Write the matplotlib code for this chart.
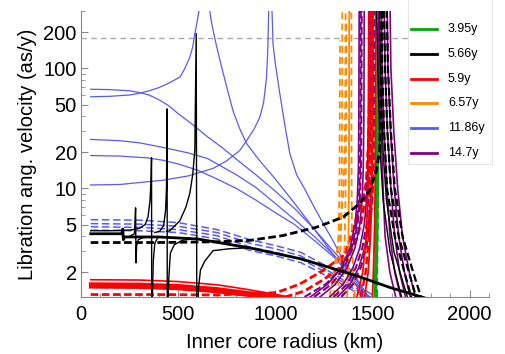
import numpy as np
import matplotlib
matplotlib.use("Agg")
import matplotlib.pyplot as plt
from matplotlib.lines import Line2D
from matplotlib.patches import Rectangle
from matplotlib.ticker import FixedLocator, FixedFormatter, NullFormatter, LogLocator

plt.rcParams['font.family'] = ['Liberation Sans', 'DejaVu Sans']
plt.rcParams['lines.scale_dashes'] = False

# colours / periods
periods = ['3.95y', '5.66y', '5.9y', '6.57y', '11.86y', '14.7y']
colors = ['#00aa00', '#000000', '#ff0000', '#ff8800', '#5a5af2', '#800080']
GREEN, BLACK, RED, ORANGE, BLUE, PURPLE = colors

ref_level = 180  # grey dashed line

# ---- 11.86y (blue) solid branches: (x km, y as/y)
blue_solid = [
    ([50, 150, 250, 300, 350, 400, 450, 500, 575, 650, 725, 800, 900, 1000, 1100, 1200, 1300, 1400, 1480],
     [67, 66.5, 65, 63, 60, 55, 49, 42, 34, 27, 22, 17.5, 13, 9.5, 6.8, 4.6, 3.0, 2.0, 1.25]),
    ([50, 150, 250, 300, 350, 400, 450, 509, 535, 560, 575, 586, 597, 607, 612],
     [58, 58.5, 60, 62, 65, 69, 75, 84.5, 100, 124, 150, 195, 240, 300, 400]),
    ([655, 663, 670, 680, 695, 715, 750, 783, 815, 852, 920, 1000, 1100, 1200, 1300, 1400, 1460],
     [400, 300, 250, 207, 160, 117, 70, 44, 32, 23.7, 17, 12, 7.5, 4.6, 2.8, 1.7, 1.25]),
    ([50, 200, 420, 550, 680, 750, 817, 852, 890, 920, 940, 955, 962, 966, 968],
     [10.7, 10.8, 11.7, 12.7, 14.7, 17, 20.7, 25, 31, 39, 52, 84, 150, 300, 400]),
    ([980, 983, 986, 988, 1000, 1023, 1050, 1075, 1110, 1150, 1200, 1250, 1300, 1350, 1400, 1450],
     [400, 300, 220, 161, 110, 62, 33, 19.5, 13, 10, 7, 5, 3.6, 2.5, 1.75, 1.25]),
    ([50, 200, 300, 420, 550, 650, 800, 900, 1000, 1100, 1200, 1300, 1400, 1480],
     [25.6, 25, 24, 22, 19.8, 17.8, 13, 10.2, 7.5, 5.5, 4, 2.8, 1.9, 1.25]),
    ([50, 200, 340, 420, 500, 600, 700, 800, 900, 1000, 1100, 1200, 1300, 1400, 1470],
     [18.8, 18.6, 18, 17.2, 16, 14.2, 12, 10, 8, 6.3, 5, 3.7, 2.7, 1.8, 1.25]),
]

# ---- blue dashed branches
blue_dash_x = [50, 300, 500, 700, 870, 1000, 1130, 1300, 1440, 1500]
blue_dash = [
    [5.5, 5.45, 5.2, 4.55, 3.75, 3.35, 2.95, 2.1, 1.5, 1.3],
    [5.1, 5.05, 4.85, 4.3, 3.5, 3.15, 2.75, 1.95, 1.4, 1.22],
    [4.8, 4.75, 4.55, 4.05, 3.25, 2.95, 2.6, 1.85, 1.35, 1.2],
    [4.5, 4.45, 4.3, 3.8, 3.05, 2.75, 2.42, 1.75, 1.3, 1.15],
]

# ---- 5.66y (black)
black_thick_x = [50, 210, 215, 218, 225, 400, 600, 870, 1130, 1280, 1430, 1590, 1790]
black_thick_y = [4.2, 4.2, 4.6, 3.75, 3.95, 3.95, 3.8, 3.2, 2.6, 2.2, 1.85, 1.5, 1.2]

black_thin = [
    ([50, 150, 250, 300, 330, 345, 355, 360, 363, 364],
     [4.45, 4.45, 4.5, 4.65, 5.0, 5.8, 7.9, 11, 18, 1.0]),
    ([250, 275, 281, 283, 286, 295, 320, 360],
     [4.0, 4.2, 6.9, 2.4, 3.3, 3.75, 3.9, 3.95]),
    ([366, 372, 380, 395, 410],
     [1.0, 2.5, 3.5, 3.9, 3.95]),
    ([380, 405, 425, 435, 440, 443, 444],
     [4.3, 4.4, 4.9, 6.5, 10, 46, 1.0]),
    ([447, 452, 460, 480, 520, 600],
     [1.0, 1.8, 2.9, 3.4, 3.7, 3.85]),
    ([440, 458, 509, 540, 560, 575, 586, 593, 596],
     [4.4, 4.45, 5.4, 7.0, 9.1, 13, 21, 195, 1.0]),
    ([600, 605, 615, 638, 680, 764, 850],
     [1.0, 1.5, 2.1, 2.5, 3.04, 3.15, 3.2]),
    ([1520, 1528, 1540, 1555, 1590, 1650],
     [400, 100, 20, 8, 3, 1.25]),
    ([1535, 1542, 1555, 1572, 1610, 1680],
     [400, 100, 20, 8, 3, 1.25]),
]

black_dash_x = [50, 400, 700, 869, 1040, 1212, 1349, 1434, 1486, 1520, 1537, 1545, 1550]
black_dash_y = [3.55, 3.55, 3.6, 3.7, 4.06, 4.76, 5.77, 7.5, 9.6, 14.1, 20.7, 60, 400]

right_y = [400, 100, 30, 10, 4, 2, 1.25]
black_dash_right = [
    [1545, 1550, 1560, 1575, 1615, 1665, 1700],
    [1558, 1565, 1577, 1595, 1635, 1688, 1725],
    [1572, 1580, 1595, 1615, 1655, 1710, 1750],
]

# ---- 14.7y (purple)
purple_right = [
    [1530, 1535, 1545, 1555, 1565, 1590, 1620],
    [1545, 1550, 1560, 1575, 1590, 1615, 1645],
    [1560, 1565, 1577, 1595, 1615, 1640, 1670],
    [1575, 1580, 1593, 1612, 1635, 1665, 1695],
    [1590, 1595, 1610, 1630, 1655, 1690, 1720],
]
left_y = [1.25, 1.6, 2.2, 3.2, 5, 8, 15, 40, 400]
purple_left = [
    [1180, 1270, 1340, 1385, 1410, 1422, 1428, 1430, 1432],
    [1230, 1310, 1370, 1410, 1435, 1447, 1453, 1456, 1458],
    [1280, 1350, 1400, 1435, 1458, 1470, 1476, 1479, 1481],
    [1320, 1385, 1430, 1460, 1480, 1492, 1498, 1500, 1502],
]
purple_left_dash = [
    [1150, 1260, 1345, 1392, 1418, 1430, 1436, 1438, 1440],
    [1200, 1290, 1355, 1398, 1423, 1435, 1441, 1443, 1445],
    [1300, 1370, 1415, 1448, 1470, 1481, 1487, 1490, 1492],
    [1340, 1400, 1440, 1468, 1488, 1500, 1506, 1508, 1510],
]

# ---- 5.9y (red)
red_x = [50, 300, 500, 700, 850, 950, 1050, 1100]
red_thin_y = [1.74, 1.73, 1.68, 1.58, 1.45, 1.36, 1.27, 1.22]
red_thick = [
    [1.6, 1.59, 1.55, 1.46, 1.36, 1.3, 1.22, 1.18],
    [1.52, 1.51, 1.47, 1.39, 1.3, 1.25, 1.18, 1.15],
]
red_dash = [
    ([50, 400, 700, 869, 1006, 1126, 1245, 1315, 1383, 1420, 1450, 1468, 1480, 1488, 1492],
     [1.31, 1.31, 1.3, 1.33, 1.36, 1.6, 2.07, 2.5, 3.04, 3.8, 6, 10, 25, 100, 400]),
    ([1050, 1150, 1250, 1332, 1400, 1450, 1470, 1485, 1495, 1500],
     [1.25, 1.4, 1.75, 2.2, 4.5, 8.4, 11.6, 30, 100, 400]),
]
vert_y = [1.25, 2, 4, 10, 40, 400]
red_vert = [
    [1420, 1450, 1468, 1478, 1482, 1484],
    [1460, 1478, 1490, 1498, 1502, 1504],
    [1500, 1505, 1510, 1514, 1516, 1518],
]
red_vert_dash = [
    [1440, 1465, 1482, 1490, 1494, 1496],
]

# ---- 6.57y (orange)
orange_lines = [  # (x at vert_y, top y, dashed)
    ([1300, 1315, 1325, 1330, 1332, 1333], 170, True),
    ([1320, 1330, 1338, 1342, 1344, 1345], 400, True),
    ([1345, 1352, 1358, 1362, 1365, 1366], 240, True),
    ([1370, 1374, 1377, 1379, 1380, 1381], 400, False),
    ([1410, 1400, 1395, 1393, 1392, 1392], 400, True),
    ([1280, 1300, 1330, 1352, 1360, 1362], 400, True),
]

# ---- 3.95y (green)
green_x = [1515, 1520, 1525, 1528, 1530]
green_y = [1.25, 3, 10, 50, 150]
green_dash_x = [1522, 1526, 1530, 1533]
green_dash_y = [1.25, 5, 30, 400]

DASH = (5.5, 2.5)

fig = plt.figure(figsize=(5.06, 3.54), dpi=100)
ax = fig.add_axes([81 / 506, 57 / 354, 408 / 506, 286 / 354])

ax.axhline(ref_level, color='#aaaaaa', lw=1, dashes=(4, 3), zorder=1)

# blue
for xs, ys in blue_solid:
    ax.plot(xs, ys, color=BLUE, lw=0.9)
for ys in blue_dash:
    ax.plot(blue_dash_x, ys, color=BLUE, lw=1.1, dashes=DASH)

# green (mostly hidden behind the bundle)
ax.plot(green_x, green_y, color=GREEN, lw=2.5)
ax.plot(green_dash_x, green_dash_y, color=GREEN, lw=1.8, dashes=DASH)

# red
ax.plot(red_x, red_thin_y, color=RED, lw=1.2)
for ys in red_thick:
    ax.plot(red_x, ys, color=RED, lw=2.6)
for xs, ys in red_dash:
    ax.plot(xs, ys, color=RED, lw=2, dashes=DASH)

# orange
for xs, top, dashed in orange_lines:
    ys = vert_y[:-1] + [top]
    if dashed:
        ax.plot(xs, ys, color=ORANGE, lw=1.3, dashes=(5, 3))
    else:
        ax.plot(xs, ys, color=ORANGE, lw=1.3)

# purple
for xs in purple_left:
    ax.plot(xs, left_y, color=PURPLE, lw=1.2)
for xs in purple_left_dash:
    ax.plot(xs, left_y, color=PURPLE, lw=1.5, dashes=DASH)
for xs in purple_right:
    ax.plot(xs, right_y, color=PURPLE, lw=1.2)

for xs in red_vert:
    ax.plot(xs, vert_y, color=RED, lw=1.3)
for xs in red_vert_dash:
    ax.plot(xs, vert_y, color=RED, lw=1.8, dashes=DASH)

# black
for xs, ys in black_thin:
    ax.plot(xs, ys, color=BLACK, lw=1.0)
ax.plot(black_thick_x, black_thick_y, color=BLACK, lw=2)
ax.plot(black_dash_x, black_dash_y, color=BLACK, lw=2, dashes=DASH)
for xs in black_dash_right:
    ax.plot(xs, right_y, color=BLACK, lw=1.6, dashes=DASH)

ax.set_yscale('log')
ax.set_xlim(0, 2100)
ax.set_ylim(1.25, 300)

ax.xaxis.set_major_locator(FixedLocator([0, 500, 1000, 1500, 2000]))
ax.xaxis.set_minor_locator(FixedLocator(np.arange(0, 2101, 100)))
ax.yaxis.set_major_locator(FixedLocator([2, 5, 10, 20, 50, 100, 200]))
ax.yaxis.set_major_formatter(FixedFormatter(['2', '5', '10', '20', '50', '100', '200']))
ax.yaxis.set_minor_locator(LogLocator(base=10, subs=np.arange(1, 10), numticks=20))
ax.yaxis.set_minor_formatter(NullFormatter())

for s in ['top', 'right']:
    ax.spines[s].set_visible(False)
for s in ['left', 'bottom']:
    ax.spines[s].set_color('#888888')
ax.tick_params(which='both', direction='in', color='#888888', labelsize=14.5)
ax.tick_params(which='major', length=5)
ax.tick_params(which='minor', length=3)
ax.tick_params(axis='y', pad=3)
ax.tick_params(axis='x', pad=6)

ax.set_xlabel('Inner core radius (km)', fontsize=14.5, labelpad=6)
ax.set_ylabel('Libration ang. velocity (as/y)', fontsize=14.5, labelpad=5)

# legend panel (white box running off the top edge), entries placed by pixel
W, H = 506, 354
fig.patches.append(Rectangle((408 / W, 190 / H), 84 / W, 0.6,
                             transform=fig.transFigure, facecolor='white',
                             edgecolor='#e6e6e6', lw=0.8, zorder=2))
for i, (lab, c) in enumerate(zip(periods, colors)):
    yf = 1 - (29 + 24.8 * i) / H
    fig.lines.append(Line2D([411 / W, 437 / W], [yf, yf], color=c, lw=2,
                            transform=fig.transFigure, zorder=3))
    fig.text(448 / W, yf, lab, fontsize=9, va='center', ha='left', zorder=3)

fig.savefig('out.png', dpi=100)
